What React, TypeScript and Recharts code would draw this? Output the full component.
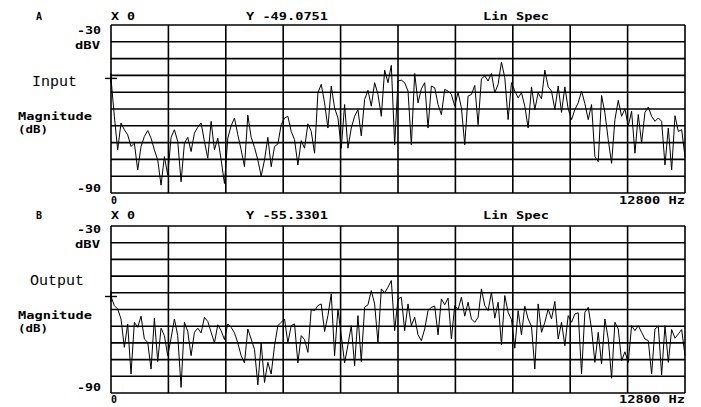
import { LineChart, Line, XAxis, YAxis, CartesianGrid, ReferenceDot } from 'recharts';

// analyzer span, 0 .. 12800 Hz
const SPAN_HZ = 12800;
const freqTicks = [0, 1280, 2560, 3840, 5120, 6400, 7680, 8960, 10240, 11520, 12800];
const dbTicks = [-90, -84, -78, -72, -66, -60, -54, -48, -42, -36, -30];

// trace A (input), dBV, equally spaced over the span
const inputDb = [
  -49.08, -62.6, -74.6, -65, -67.4, -69.2, -73.4, -72.2, -81.8, -73.4,
  -69.8, -67.7, -70.4, -74.6, -78.2, -87.2, -77, -83.6, -70.1, -67.4,
  -71.6, -86, -72.2, -70.1, -75.2, -68.6, -66.5, -65, -71.6, -77.6,
  -64.4, -74.6, -70.4, -78.2, -86.6, -70.4, -66, -63.2, -69.2, -74.6,
  -80.6, -62.2, -70.1, -73.7, -78.2, -84, -78.2, -70.1, -80.6, -73.4,
  -72.5, -65.6, -63.2, -62.6, -68, -71, -80, -71.3, -74, -65.3,
  -68, -75.8, -54.2, -51.2, -57.8, -66.8, -51.8, -59.6, -63.2, -74,
  -58.4, -74, -66.8, -62.6, -60.2, -69.6, -56.6, -53.3, -59, -50.6,
  -54.8, -62.6, -46.1, -50.6, -44.4, -72.8, -50, -49.7, -50.6, -53.6,
  -72.8, -47.3, -57.8, -52.8, -50.6, -66.8, -51.8, -52.4, -58.4, -62,
  -53, -53.6, -54.8, -59, -54, -59.6, -72.8, -55.4, -54.8, -51.6,
  -65.6, -49.2, -48.2, -50, -47.3, -54.2, -51.2, -43.2, -48.8, -63.8,
  -50.6, -53.6, -56, -54.2, -59, -66.8, -52.1, -60.2, -54.2, -56.4,
  -46.1, -52.1, -53.6, -60.2, -51.8, -61.2, -52.1, -60, -63.8, -60.2,
  -57.8, -53.6, -58.1, -63.8, -58.4, -77, -78.8, -55.2, -61.4, -71,
  -79.4, -63.8, -56.9, -62.6, -60, -66, -60.8, -75.8, -62, -72.2,
  -61.2, -59.3, -62.6, -64.4, -63.2, -64.4, -80, -66.8, -81.8, -62.4,
  -68, -67.4, -77,
];

// trace B (output)
const outputDb = [
  -55.33, -58.6, -59.8, -63.4, -73.6, -65.2, -83.2, -64.6, -66.4, -62.4,
  -70.6, -71.8, -81.4, -63.1, -78.7, -66.7, -69.4, -76.6, -70.3, -63.4,
  -69.4, -88, -64.6, -67.9, -76.6, -68.2, -66.7, -68.4, -62.8, -64.3,
  -68.2, -72, -65.5, -67.6, -70.8, -65.2, -66.4, -68.4, -72, -76.6,
  -79.2, -67, -70.6, -74.4, -87.1, -72, -86.2, -79, -83.2, -73,
  -65.8, -64.6, -63.4, -72, -65.8, -65.2, -79.2, -69.4, -70.8, -75.4,
  -60, -60.4, -58.6, -58, -67.9, -62.2, -54.4, -76.6, -59.8, -69.4,
  -79.2, -72.7, -65.8, -80.2, -62.2, -78.7, -59.2, -58.3, -53.2, -58,
  -72, -52.6, -54, -52, -49.6, -67.6, -56.2, -55.6, -67.6, -58,
  -65.8, -62.8, -69.1, -71.2, -67, -60.4, -59.2, -58.8, -69.1, -56.2,
  -58.3, -55.9, -70.6, -58.6, -60, -55.6, -62.4, -57.4, -63.4, -64.6,
  -62.8, -52.6, -58.6, -60.4, -53.8, -63.1, -57.4, -72.7, -55, -61,
  -63.6, -73.9, -60.4, -69.1, -58.8, -63.4, -66, -81.4, -58, -68.2,
  -64.6, -59.8, -63.4, -57.1, -70.6, -64.6, -73, -62.2, -64.6, -61.6,
  -61.2, -83.2, -61, -59.2, -67, -79, -68.2, -79.6, -63.4, -70.6,
  -84.7, -64.6, -67, -78.4, -75.2, -79, -65.8, -67.6, -65.8, -68.2,
  -70.6, -71.2, -83.2, -67, -66, -83.5, -65.8, -79, -67.2, -70.3,
  -68.8, -67.2, -76.6,
];

const toRows = (vals: number[]) =>
  vals.map((db, i) => ({ hz: (i * SPAN_HZ) / (vals.length - 1), db }));

const mono = { fontFamily: 'DejaVu Sans Mono', fontSize: 10, fontWeight: 'bold' as const, fill: '#000' };

// text stretched to the width the analyzer font takes
const T = ({ x, y, w, children }: any) => (
  <text x={x} y={y} textLength={w} lengthAdjust="spacingAndGlyphs" style={mono}>
    {children}
  </text>
);

const Cross = (props: any) => {
  const { cx, cy } = props;
  return (
    <g stroke="#000" strokeWidth={1.4}>
      <line x1={cx - 6} y1={cy} x2={cx + 6} y2={cy} />
      <line x1={cx} y1={cy - 5} x2={cx} y2={cy + 5} />
    </g>
  );
};

// one grid row every 6 dB, placed with the y axis scale
const dbRows = ({ yAxis, offset }: any) => {
  const s = yAxis && yAxis.scale;
  if (typeof s === 'function') return dbTicks.map((v) => s(v));
  if (s && typeof s.map === 'function') return dbTicks.map((v) => s.map(v));
  return dbTicks.map((v) => offset.top + ((-30 - v) / 60) * offset.height);
};

function Panel({ top, textTop, letter, name, values, marker, yText, margin }: any) {
  const rows = toRows(values);
  return (
    <>
      <div style={{ position: 'absolute', left: 0, top, width: 701, height: 204 }}>
        <LineChart width={701} height={204} data={rows} margin={margin}>
          <XAxis dataKey="hz" type="number" domain={[0, SPAN_HZ]} ticks={freqTicks} hide />
          <YAxis type="number" domain={[-90, -30]} ticks={dbTicks} tickCount={11} hide allowDataOverflow />
          <CartesianGrid
            stroke="#000"
            strokeWidth={1.6}
            strokeOpacity={1}
            horizontalCoordinatesGenerator={dbRows}
          />
          <Line
            type="linear"
            dataKey="db"
            stroke="#000"
            strokeWidth={1}
            dot={false}
            isAnimationActive={false}
          />
          <ReferenceDot x={0} y={marker} r={0} shape={Cross} ifOverflow="visible" />
        </LineChart>
      </div>
      <svg
        width={701}
        height={207}
        style={{ position: 'absolute', left: 0, top: textTop, overflow: 'visible', pointerEvents: 'none' }}
      >
        <T x={36} y={19.5} w={6}>{letter}</T>
        <T x={111} y={19.5} w={24}>X 0</T>
        <T x={246} y={19.5} w={82}>{yText}</T>
        <T x={483} y={19.5} w={66}>Lin Spec</T>
        <T x={77} y={33.5} w={24}>-30</T>
        <T x={75} y={48.5} w={25}>dBV</T>
        <text x={name === 'Input' ? 32 : 30} y={86} style={{ fontFamily: 'Liberation Mono', fontSize: 15, fill: '#000' }}>
          {name}
        </text>
        <T x={18} y={120} w={74}>Magnitude</T>
        <T x={18} y={133} w={30}>(dB)</T>
        <T x={77} y={192} w={24}>-90</T>
        <T x={111} y={203.5} w={6}>0</T>
        <T x={619} y={203.5} w={66}>12800 Hz</T>
      </svg>
    </>
  );
}

export default function App() {
  return (
    <div style={{ position: 'absolute', left: 0, top: 0, width: 701, height: 407, background: '#fff', overflow: 'hidden' }}>
      <Panel
        top={0}
        textTop={0}
        letter="A"
        name="Input"
        values={inputDb}
        marker={-49.08}
        yText="Y -49.0751"
        margin={{ top: 25, right: 16, bottom: 11, left: 111 }}
      />
      <Panel
        top={201}
        textTop={199}
        letter="B"
        name="Output"
        values={outputDb}
        marker={-55.33}
        yText="Y -55.3301"
        margin={{ top: 25, right: 16, bottom: 12, left: 111 }}
      />
    </div>
  );
}
